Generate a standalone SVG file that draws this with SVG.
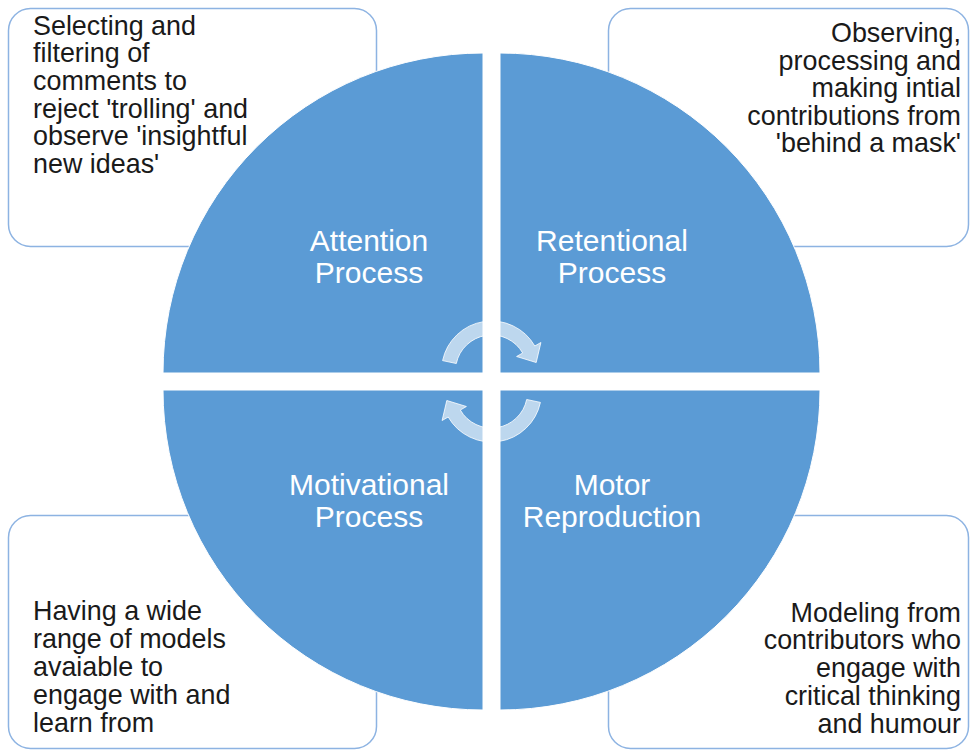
<svg xmlns="http://www.w3.org/2000/svg" xmlns:xlink="http://www.w3.org/1999/xlink" width="970" height="751" viewBox="0 0 970 751">
<style>
.box{fill:#FFFFFF;stroke:#8DB3E2;stroke-width:1.5}
.quad{fill:#5B9BD5;stroke:#FFFFFF;stroke-width:1}
.desc{font-family:"Liberation Sans",Arial,sans-serif;font-size:26.9px;fill:#1A1A1A}
.lab{font-family:"Liberation Sans",Arial,sans-serif;font-size:30px;fill:#FFFFFF;text-anchor:middle}
.cyc{fill:#FFFFFF;fill-opacity:0.6;stroke:#FFFFFF;stroke-opacity:0.8;stroke-width:1}
</style>
<defs>
<path id="cycArrow" d="M 442.6 360.6 A 50 50 0 0 1 534.8 346 L 540.9 342.5 L 536.2 362.5 L 516.6 356.5 L 522.7 353 A 36 36 0 0 0 456.3 363.5 Z"/>
</defs>
<rect width="970" height="751" fill="#FFFFFF"/>
<g id="box-attention">
<rect class="box" x="8.5" y="8.5" width="368" height="238" rx="22"/>
<text class="desc" x="33"><tspan x="33" y="34.5">Selecting and</tspan><tspan x="33" y="62.2">filtering  of</tspan><tspan x="33" y="89.9">comments to</tspan><tspan x="33" y="117.6">reject 'trolling' and</tspan><tspan x="33" y="145.3">observe 'insightful</tspan><tspan x="33" y="173">new ideas'</tspan></text>
</g>
<g id="box-retentional">
<rect class="box" x="608.5" y="8.5" width="360" height="238" rx="22"/>
<text class="desc" text-anchor="end"><tspan x="961" y="42">Observing,</tspan><tspan x="961" y="69.6">processing and</tspan><tspan x="961" y="97.2">making intial</tspan><tspan x="961" y="124.8">contributions from</tspan><tspan x="961" y="152.4">'behind a mask'</tspan></text>
</g>
<g id="box-motivational">
<rect class="box" x="8.5" y="515.5" width="368" height="233" rx="22"/>
<text class="desc"><tspan x="33" y="620">Having  a wide</tspan><tspan x="33" y="648">range of models</tspan><tspan x="33" y="676">avaiable to</tspan><tspan x="33" y="704">engage with and</tspan><tspan x="33" y="732">learn from</tspan></text>
</g>
<g id="box-motor">
<rect class="box" x="608.5" y="515.5" width="360" height="233" rx="22"/>
<text class="desc" text-anchor="end"><tspan x="961" y="621.5">Modeling  from</tspan><tspan x="961" y="649.3">contributors who</tspan><tspan x="961" y="677.1">engage with</tspan><tspan x="961" y="704.9">critical thinking</tspan><tspan x="961" y="732.7">and humour</tspan></text>
</g>
<g id="attention-process">
<path class="quad" d="M 483 373 L 163 373 A 320 320 0 0 1 483 53 Z"/>
<text class="lab"><tspan x="369" y="251">Attention</tspan><tspan x="369" y="283">Process</tspan></text>
</g>
<g id="retentional-process">
<path class="quad" d="M 500 373 L 500 53 A 320 320 0 0 1 820 373 Z"/>
<text class="lab"><tspan x="612" y="251">Retentional</tspan><tspan x="612" y="283">Process</tspan></text>
</g>
<g id="motor-reproduction">
<path class="quad" d="M 500 390 L 820 390 A 320 320 0 0 1 500 710 Z"/>
<text class="lab"><tspan x="612" y="495">Motor</tspan><tspan x="612" y="527">Reproduction</tspan></text>
</g>
<g id="motivational-process">
<path class="quad" d="M 483 390 L 483 710 A 320 320 0 0 1 163 390 Z"/>
<text class="lab"><tspan x="369" y="495">Motivational</tspan><tspan x="369" y="527">Process</tspan></text>
</g>
<g id="connectors">
<use xlink:href="#cycArrow" class="cyc"/>
<use xlink:href="#cycArrow" class="cyc" transform="rotate(180 491.5 381.5)"/>
</g>
</svg>
